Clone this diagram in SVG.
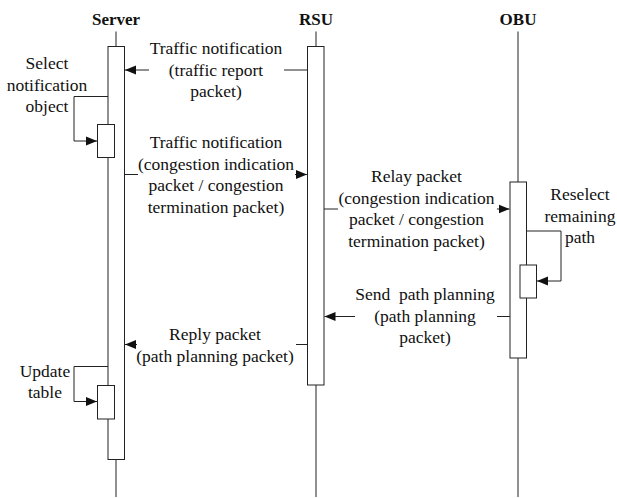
<svg xmlns="http://www.w3.org/2000/svg" width="617" height="498" viewBox="0 0 617 498" font-family="Liberation Serif, serif">
<style>
.p{white-space:pre}
.l{stroke:#222;stroke-width:1;fill:none}
.b{stroke:#222;stroke-width:1;fill:#fff}
.a{stroke:#222;stroke-width:1;fill:none;marker-end:url(#ah)}
</style>
<defs>
<marker id="ah" markerUnits="userSpaceOnUse" markerWidth="12" markerHeight="10" refX="11" refY="5" orient="auto">
<path d="M0,0.5 L11,5 L0,9.5 Z" fill="#111"/>
</marker>
</defs>
<g id="server">
<text x="116" y="25" font-size="17" font-weight="bold" text-anchor="middle" fill="#111">Server</text>
<line class="l" x1="116" y1="31.5" x2="116" y2="497"/>
<rect class="b" x="108" y="46.5" width="16.5" height="413"/>
<rect class="b" x="97.5" y="124.5" width="17" height="33"/>
<rect class="b" x="97.5" y="385.5" width="17" height="33.5"/>
</g>
<g id="rsu">
<text x="316" y="25" font-size="17" font-weight="bold" text-anchor="middle" fill="#111">RSU</text>
<line class="l" x1="316" y1="31.5" x2="316" y2="497"/>
<rect class="b" x="307.5" y="46.5" width="16.5" height="338.5"/>
</g>
<g id="obu">
<text x="518" y="25" font-size="17" font-weight="bold" text-anchor="middle" fill="#111">OBU</text>
<line class="l" x1="518" y1="31.5" x2="518" y2="497"/>
<rect class="b" x="510" y="182" width="16.5" height="176"/>
<rect class="b" x="520" y="265" width="16.5" height="33"/>
</g>
<g id="connectors">
<line class="l" x1="307.5" y1="70" x2="284" y2="70"/>
<line class="a" x1="149" y1="70" x2="125" y2="70"/>
<line class="l" x1="124.5" y1="174.5" x2="138" y2="174.5"/>
<line class="a" x1="295" y1="174.5" x2="307" y2="174.5"/>
<line class="l" x1="324" y1="209" x2="338" y2="209"/>
<line class="a" x1="497" y1="209" x2="509.5" y2="209"/>
<line class="l" x1="510" y1="316.5" x2="497" y2="316.5"/>
<line class="a" x1="355" y1="316.5" x2="324.5" y2="316.5"/>
<line class="l" x1="307.5" y1="344.5" x2="296" y2="344.5"/>
<line class="a" x1="137" y1="344.5" x2="125" y2="344.5"/>
<polyline class="a" points="108,96.5 74,96.5 74,141 97,141"/>
<polyline class="a" points="108,366.5 74,366.5 74,401.5 97,401.5"/>
<polyline class="a" points="526.5,231 561,231 561,281 537,281"/>
</g>
<g id="labels" font-family="Liberation Serif, serif" font-size="17.5" text-anchor="middle" fill="#111">
<text x="47" y="69">Select</text>
<text x="47" y="90.5">notification</text>
<text x="47" y="112">object</text>
<text x="216" y="54">Traffic notification</text>
<text x="216" y="75.5">(traffic report</text>
<text x="216" y="97">packet)</text>
<text x="216" y="148">Traffic notification</text>
<text x="216" y="169.5">(congestion indication</text>
<text x="216" y="191">packet / congestion</text>
<text x="216" y="212.5">termination packet)</text>
<text x="416.5" y="182">Relay packet</text>
<text x="416.5" y="203.5">(congestion indication</text>
<text x="416.5" y="225">packet / congestion</text>
<text x="416.5" y="246.5">termination packet)</text>
<text x="580" y="200">Reselect</text>
<text x="580" y="221.5">remaining</text>
<text x="580" y="243">path</text>
<text class="p" x="425" y="300">Send  path planning</text>
<text x="425" y="321.5">(path planning</text>
<text x="425" y="343">packet)</text>
<text x="215" y="340">Reply packet</text>
<text x="215" y="361.5">(path planning packet)</text>
<text x="45" y="377">Update</text>
<text x="45" y="398">table</text>
</g>
</svg>
